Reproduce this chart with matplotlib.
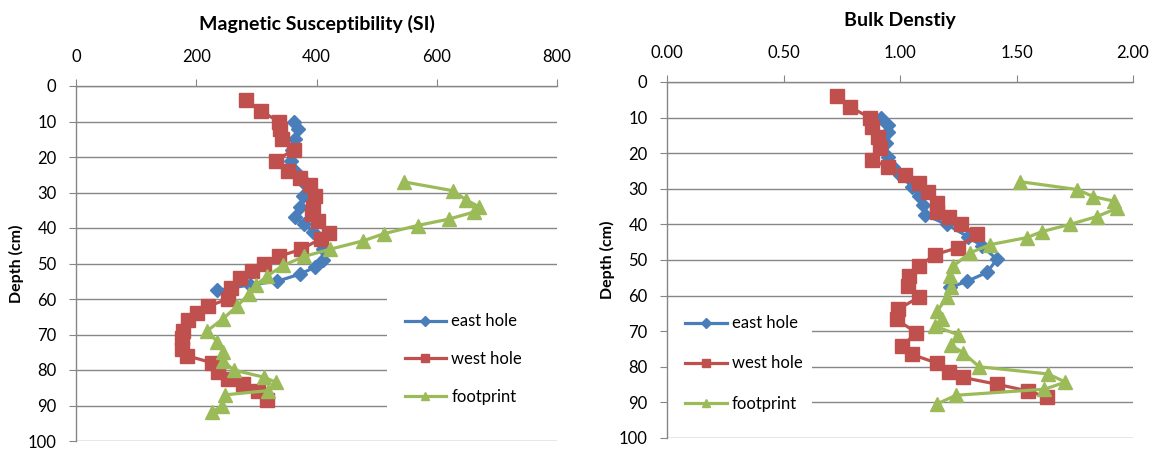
import matplotlib
matplotlib.use("Agg")
import matplotlib.pyplot as plt
from matplotlib.patches import Rectangle

plt.rcParams['font.family'] = ['Lato', 'DejaVu Sans']

# ---- Magnetic susceptibility (left) ----
ms_east_depth = [10, 12, 15, 18, 21, 24, 26, 28, 31, 34, 37, 39, 41, 44, 46, 49, 51, 53, 55, 56, 57.6]
ms_east = [362, 370, 365, 360, 358, 365, 375, 383, 377, 372, 365, 380, 395, 405, 410, 410, 398, 372, 335, 290, 235]

ms_west_depth = [4, 7, 10, 12, 15, 18, 21, 24, 26, 28, 31, 34, 36, 38, 41.5, 43, 46, 48, 50, 52, 54,
                 57, 60, 62, 64, 66, 69, 71, 74, 76, 78, 80.5, 82.4, 84, 86, 88.5]
ms_west = [282, 307, 337, 340, 343, 362, 332, 353, 373, 390, 398, 395, 393, 403, 420, 407, 375, 337, 312, 293, 272,
           257, 253, 220, 202, 187, 178, 177, 177, 185, 227, 237, 252, 277, 303, 318]

ms_foot_depth = [27, 29.5, 32, 34, 35.5, 37.5, 39.3, 41.6, 43.6, 46, 48, 50.5, 53.5, 56, 58.5, 62, 65.5,
                 69, 72, 75, 77.5, 80, 82, 83.4, 85.8, 87, 90, 91.8]
ms_foot = [545, 627, 648, 670, 662, 620, 568, 512, 478, 422, 380, 345, 318, 300, 288, 268, 245,
           218, 235, 245, 245, 262, 312, 332, 320, 248, 243, 227]

# ---- Bulk density (right) ----
bd_east_depth = [10, 12, 14, 17, 21, 24, 26, 29.4, 32, 34.5, 37.3, 40, 43.4, 46, 49.8, 53.5, 56, 57.7]
bd_east = [0.92, 0.95, 0.95, 0.94, 0.95, 0.97, 1.00, 1.05, 1.08, 1.10, 1.107, 1.20, 1.29, 1.35, 1.416, 1.373, 1.287, 1.215]

bd_west_depth = [4, 7, 10, 12.5, 15.5, 18.5, 21.8, 24, 26, 28.3, 31, 34, 36.4, 38, 40, 42.8, 46.5, 48.5,
                 51.8, 54.6, 57.4, 60.5, 63.9, 66.7, 70.4, 74.2, 76.5, 79, 81.5, 83, 84.9, 86.8, 88.5]
bd_west = [0.73, 0.785, 0.87, 0.88, 0.905, 0.914, 0.88, 0.95, 1.02, 1.08, 1.12, 1.16, 1.16, 1.21, 1.26, 1.33,
           1.25, 1.15, 1.08, 1.04, 1.035, 1.08, 0.99, 0.985, 1.07, 1.01, 1.05, 1.16, 1.21, 1.27, 1.416, 1.55, 1.63]

bd_foot_depth = [28, 30.2, 32.2, 33.5, 35.5, 37.8, 40, 42, 43.7, 45.7, 48, 51.8, 54.6, 57.5, 60.5, 64.4,
                 66.5, 68.6, 71, 74, 76, 80, 82, 84.3, 86.3, 88, 90.4]
bd_foot = [1.515, 1.76, 1.83, 1.92, 1.93, 1.845, 1.73, 1.61, 1.545, 1.386, 1.30, 1.227, 1.215, 1.22, 1.20, 1.16,
           1.18, 1.15, 1.25, 1.22, 1.27, 1.34, 1.635, 1.71, 1.62, 1.24, 1.16]

series_labels = ['east hole', 'west hole', 'footprint']
c_blue, c_red, c_green = '#4a7ebb', '#c0504d', '#9bbb59'

W, H = 1171, 450
fig = plt.figure(figsize=(W / 100, H / 100), dpi=100)
# axes boxes in pixels (left, top, right, bottom)
ax1 = fig.add_axes([76 / W, (H - 441) / H, (557 - 76) / W, (441 - 86) / H])
ax2 = fig.add_axes([667 / W, (H - 438) / H, (1133 - 667) / W, (438 - 82) / H])


def style(ax, xlim, xticks, xfmt, title):
    ax.set_xlim(*xlim)
    ax.set_ylim(100, 0)
    ax.set_yticks(range(0, 101, 10))
    ax.set_xticks(xticks)
    ax.set_xticklabels([xfmt(v) for v in xticks])
    ax.xaxis.tick_top()
    ax.xaxis.set_label_position('top')
    ax.grid(axis='y', color='#868686', linewidth=1.0, zorder=0.5)
    ax.set_axisbelow(True)
    for s in ['right', 'bottom']:
        ax.spines[s].set_visible(False)
    for s in ['top', 'left']:
        ax.spines[s].set_color('#868686')
        ax.spines[s].set_linewidth(1.0)
    ax.tick_params(axis='both', direction='out', length=5, color='#868686', labelsize=12,
                   labelcolor='#000000')
    ax.tick_params(axis='y', pad=9)
    ax.tick_params(axis='x', pad=10)
    ax.set_title(title, fontsize=14, fontweight='bold', pad=40)
    ax.set_ylabel('Depth (cm)', fontsize=11.5, fontweight='bold', labelpad=3)


def draw(ax, east, west, foot):
    l1, = ax.plot(east[1], east[0], color=c_blue, lw=2.3, marker='D', ms=7.5, label=series_labels[0], zorder=3)
    l2, = ax.plot(west[1], west[0], color=c_red, lw=2.3, marker='s', ms=9.5, label=series_labels[1], zorder=3)
    l3, = ax.plot(foot[1], foot[0], color=c_green, lw=2.3, marker='^', ms=9.5, label=series_labels[2], zorder=3)
    return [l1, l2, l3]


def legend(ax, handles, anchor, spacing):
    lg = ax.legend(handles=handles, loc='upper left', bbox_to_anchor=anchor, frameon=False,
                   fontsize=12, handlelength=2.5, labelspacing=spacing, handletextpad=0.3,
                   borderpad=0.6, markerscale=0.65)
    return lg


h = draw(ax1, (ms_east_depth, ms_east), (ms_west_depth, ms_west), (ms_foot_depth, ms_foot))
style(ax1, (0, 800), [0, 200, 400, 600, 800], lambda v: f"{v:d}", 'Magnetic Susceptibility (SI)')
# white legend area hiding the gridlines
ax1.add_patch(Rectangle(((387 - 76) / 481, (441 - 432) / 355), 1.0, (432 - 282) / 355,
                        transform=ax1.transAxes, facecolor='white', edgecolor='none', zorder=1))
legend(ax1, h, (0.645, (441 - 295) / 355), 1.3)

h2 = draw(ax2, (bd_east_depth, bd_east), (bd_west_depth, bd_west), (bd_foot_depth, bd_foot))
style(ax2, (0, 2.0), [0, 0.5, 1.0, 1.5, 2.0], lambda v: f"{v:.2f}", 'Bulk Denstiy')
ax2.add_patch(Rectangle((0.003, (438 - 426) / 356), (812 - 668) / 466, (426 - 304) / 356,
                        transform=ax2.transAxes, facecolor='white', edgecolor='none', zorder=1))
legend(ax2, h2, (0.0, (438 - 297) / 356), 1.45)

fig.savefig('out.png', dpi=100)
